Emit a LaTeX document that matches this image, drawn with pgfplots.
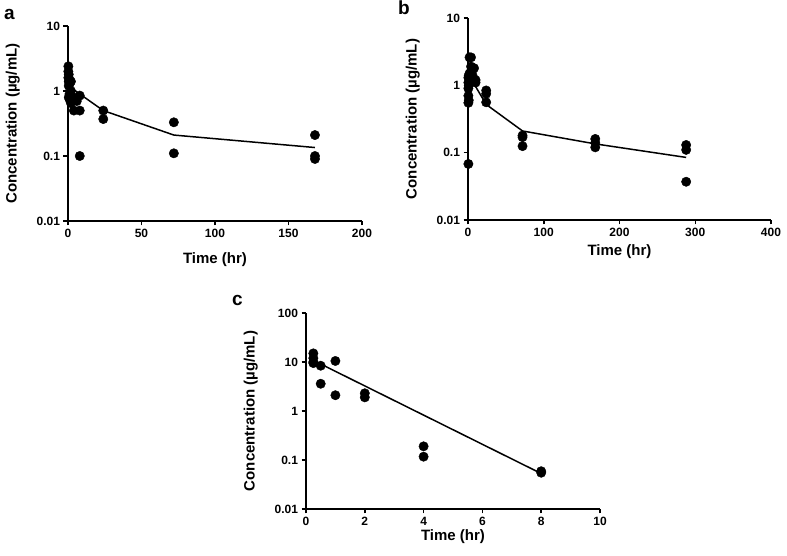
\documentclass[border=0pt]{standalone}
\usepackage{fontspec}
\setmainfont{Liberation Sans}
\usepackage{pgfplots}
\pgfplotsset{compat=1.18}
\pgfkeys{/pgf/number format/assume math mode=true}
\pgfplotsset{
  every axis/.append style={
    scale only axis, axis lines=left,
    axis line style={-, line width=1.7pt},
    major tick style={line width=1.5pt, black},
    major tick length=4.5pt, tick align=outside,
    ticklabel style={font=\bfseries\fontsize{12}{13}\selectfont},
    label style={font=\bfseries\fontsize{15}{16}\selectfont},
    ylabel style={yshift=10pt},
    clip=false,
  },
}
\begin{document}
\begin{tikzpicture}
\path[use as bounding box] (0pt,0pt) rectangle (787pt,-556pt);
% panel a
\begin{axis}[ymode=log, log ticks with fixed point, yminorticks=false,
  anchor=south west, at={(68pt,-221pt)}, width=294pt, height=195pt,
  xlabel={Time (hr)}, ylabel={Concentration (µg/mL)},
  xlabel style={yshift=-8pt},
  xmin=0, xmax=200, ymin=0.01, ymax=10, xtick={0,50,100,150,200}]
\addplot[only marks, mark=*, mark size=4.7pt, black] coordinates {
(0.25,2.4)(0.25,2.0)(0.25,1.6)(0.5,1.8)(0.5,1.4)(0.5,1.2)(0.5,0.8)
(1,1.5)(1,1.3)(1,0.9)(1,0.75)(2,1.4)(2,1.0)(2,0.7)(2,0.65)
(4,0.5)(4,0.8)(6,0.7)(8,0.85)(8,0.5)(8,0.1)
(24,0.5)(24,0.37)(72,0.33)(72,0.11)(168,0.21)(168,0.1)(168,0.09)};
\addplot[no marks, black, line width=1.5pt] coordinates {
(0.25,1.2)(1,1.15)(2,1.1)(4,1.05)(8,0.9)(24,0.5)(72,0.21)(168,0.135)};
\end{axis}
% panel b
\begin{axis}[ymode=log, log ticks with fixed point, yminorticks=false,
  anchor=south west, at={(468pt,-220pt)}, width=303pt, height=202pt,
  xlabel={Time (hr)}, ylabel={Concentration (µg/mL)},
  xlabel style={yshift=-1pt},
  xmin=0, xmax=400, ymin=0.01, ymax=10, xtick={0,100,200,300,400}]
\addplot[only marks, mark=*, mark size=4.7pt, black] coordinates {
(0.5,0.068)(0.5,0.55)(0.5,0.7)(0.5,0.9)(0.5,1.1)(0.5,1.3)
(1,1.4)(1,0.6)(1,1.0)(2,1.5)(2,2.6)(2,1.2)
(4,2.6)(4,1.9)(4,1.6)(4,1.2)(6,1.7)(6,1.4)(8,1.8)(8,1.2)(10,1.2)(10,1.1)
(24,0.84)(24,0.75)(24,0.56)(72,0.18)(72,0.17)(72,0.125)
(168,0.16)(168,0.14)(168,0.12)(288,0.13)(288,0.11)(288,0.037)};
\addplot[no marks, black, line width=1.5pt] coordinates {
(0.5,1.3)(2,1.25)(4,1.2)(8,1.05)(24,0.52)(72,0.21)(168,0.135)(288,0.085)};
\end{axis}
% panel c
\begin{axis}[ymode=log, log ticks with fixed point, yminorticks=false,
  anchor=south west, at={(306pt,-509pt)}, width=294pt, height=196pt,
  xlabel={Time (hr)}, ylabel={Concentration (µg/mL)},
  xlabel style={yshift=3pt},
  xmin=0, xmax=10, ymin=0.01, ymax=100, xtick={0,2,4,6,8,10}]
\addplot[only marks, mark=*, mark size=4.7pt, black] coordinates {
(0.25,15)(0.25,12)(0.25,9.5)(0.25,10)(0.5,8.4)(0.5,3.6)
(1,10.5)(1,2.1)(2,2.3)(2,1.9)(4,0.19)(4,0.117)(8,0.059)(8,0.055)};
\addplot[no marks, black, line width=1.5pt] coordinates {(0.25,10.8)(8,0.053)};
\end{axis}
\node[anchor=base west, inner sep=0pt, font=\bfseries\fontsize{19}{20}\selectfont] at (4pt,-20pt) {a};
\node[anchor=base west, inner sep=0pt, font=\bfseries\fontsize{19}{20}\selectfont] at (398pt,-15pt) {b};
\node[anchor=base west, inner sep=0pt, font=\bfseries\fontsize{19}{20}\selectfont] at (232pt,-305pt) {c};
\end{tikzpicture}
\end{document}
